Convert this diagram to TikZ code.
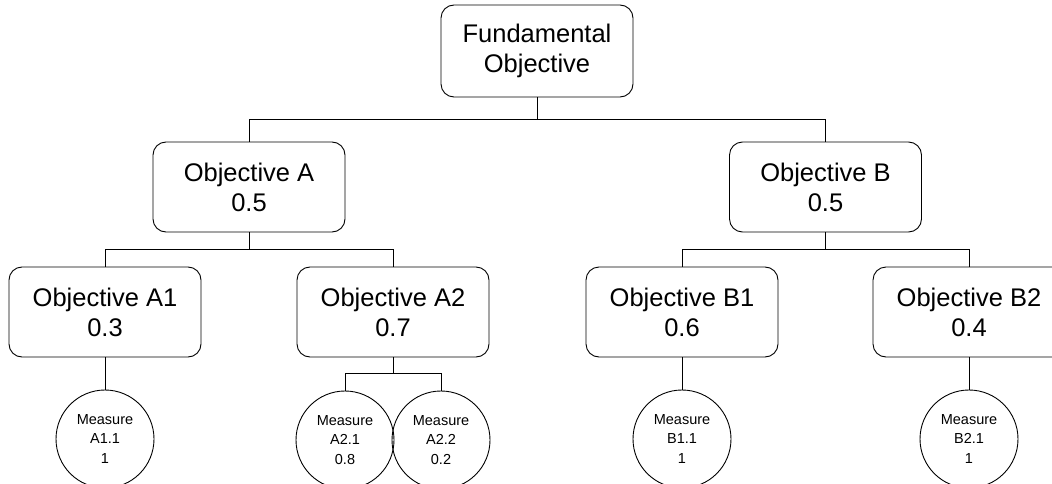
\documentclass[tikz,border=0pt]{standalone}
\usepackage{fontspec}
\setmainfont{Liberation Sans}
\begin{document}
\begin{tikzpicture}[x=1pt,y=-1pt,
  objbox/.style={draw=black, line width=0.9pt, rounded corners=13pt, minimum width=192pt, minimum height=90pt, inner sep=0pt, align=center, font=\fontsize{25.5}{30}\selectfont},
  meas/.style={draw=black, line width=0.9pt, circle, minimum size=98pt, inner sep=0pt, align=center, font=\fontsize{14.5}{19.5}\selectfont},
  conn/.style={draw=black, line width=0.9pt}]
\useasboundingbox (0,0) rectangle (1052,484);
\clip (0,0) rectangle (1052,484);
\node[objbox, minimum height=92pt] (top) at (537,51) {Fundamental\\Objective};
\node[objbox] (A) at (249,187) {Objective A\\0.5};
\node[objbox] (B) at (825.5,187) {Objective B\\0.5};
\node[objbox] (A1) at (105,312) {Objective A1\\0.3};
\node[objbox] (A2) at (393,312) {Objective A2\\0.7};
\node[objbox] (B1) at (682,312) {Objective B1\\0.6};
\node[objbox] (B2) at (969,312) {Objective B2\\0.4};
\node[meas] (m11) at (105,439) {Measure\\A1.1\\1};
\node[meas] (m21) at (345,440) {Measure\\A2.1\\0.8};
\node[meas] (m22) at (441,440) {Measure\\A2.2\\0.2};
\node[meas] (m31) at (682,439) {Measure\\B1.1\\1};
\node[meas] (m41) at (969,439) {Measure\\B2.1\\1};
\coordinate (j1) at (537,119);
\coordinate (j2) at (249,249);
\coordinate (j3) at (825.5,249);
\coordinate (j4) at (393,373);
\draw[conn] (top.south) -- (j1) -| (A.north);
\draw[conn] (j1) -| (B.north);
\draw[conn] (A.south) -- (j2) -| (A1.north);
\draw[conn] (j2) -| (A2.north);
\draw[conn] (B.south) -- (j3) -| (B1.north);
\draw[conn] (j3) -| (B2.north);
\draw[conn] (A2.south) -- (j4) -| (m21.north);
\draw[conn] (j4) -| (m22.north);
\draw[conn] (A1.south) -- (m11.north);
\draw[conn] (B1.south) -- (m31.north);
\draw[conn] (B2.south) -- (m41.north);
\end{tikzpicture}
\end{document}
